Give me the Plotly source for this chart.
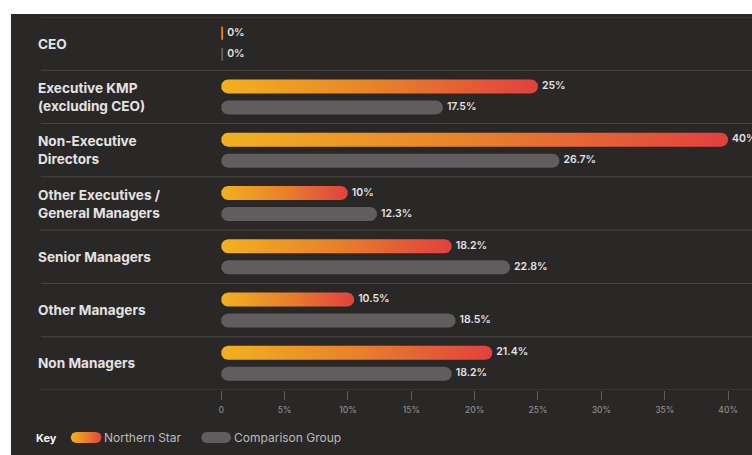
import numpy as np
import plotly.graph_objects as go

# ---------------- data ----------------
categories = ["CEO", "Executive KMP<br>(excluding CEO)", "Non-Executive<br>Directors",
              "Other Executives /<br>General Managers", "Senior Managers",
              "Other Managers", "Non Managers"]
northern_star = [0, 25, 40, 10, 18.2, 10.5, 21.4]
comparison = [0, 17.5, 26.7, 12.3, 22.8, 18.5, 18.2]
tick_vals = [0, 5, 10, 15, 20, 25, 30, 35, 40]
tick_text = ["0", "5%", "10%", "15%", "20%", "25%", "30%", "35%", "40%"]
series_names = ["Northern Star", "Comparison Group"]

# ---------------- style / layout constants ----------------
W, H = 752, 455
X0_PX, X40_PX = 219, 728
PX_PER_UNIT = (X40_PX - X0_PX) / 40.0
TOP_PX, BOT_PX = 17, 390
N = len(categories)
PX_PER_ROW = (BOT_PX - TOP_PX) / N
XMAX = (W - X0_PX) / PX_PER_UNIT

BG = "#2a2727"
SEP = "#484545"
GRAY_BAR = "#615d5e"
GRAD = [[0, "#F2B11F"], [0.5, "#E8812A"], [1, "#E2403F"]]
TXT = "#e4e2e2"
FONT = "Inter"

BAR_OFF_PX = 10.5
BAR_HALF_PX = 7.0


def pill(v, c):
    """closed polygon for a rounded bar of value v centred on row c"""
    hy = BAR_HALF_PX / PX_PER_ROW
    wpx = v * PX_PER_UNIT
    if wpx < 2 * BAR_HALF_PX:
        w = 2.0 / PX_PER_UNIT
        hy2 = 6.5 / PX_PER_ROW
        return [0, w, w, 0, 0], [c - hy2, c - hy2, c + hy2, c + hy2, c - hy2]
    rx = BAR_HALF_PX / PX_PER_UNIT
    t1 = np.linspace(-np.pi / 2, np.pi / 2, 20)
    t2 = np.linspace(np.pi / 2, 3 * np.pi / 2, 20)
    xs = list(v - rx + rx * np.cos(t1)) + list(rx + rx * np.cos(t2))
    ys = list(c + hy * np.sin(t1)) + list(c + hy * np.sin(t2))
    xs.append(xs[0]); ys.append(ys[0])
    return xs, ys


fig = go.Figure()

for i, (a, b) in enumerate(zip(northern_star, comparison)):
    ca = i - BAR_OFF_PX / PX_PER_ROW
    cb = i + BAR_OFF_PX / PX_PER_ROW
    xa, ya = pill(a, ca)
    if a == 0:
        fig.add_trace(go.Scatter(x=xa, y=ya, fill="toself", mode="lines",
                                 fillcolor="#E8812A", line=dict(width=0),
                                 hoverinfo="skip", showlegend=False))
    else:
        fig.add_trace(go.Scatter(x=xa, y=ya, fill="toself", mode="lines",
                                 fillgradient=dict(type="horizontal", colorscale=GRAD),
                                 line=dict(width=0), hoverinfo="skip", showlegend=False))
    xb, yb = pill(b, cb)
    fig.add_trace(go.Scatter(x=xb, y=yb, fill="toself", mode="lines",
                             fillcolor=GRAY_BAR, line=dict(width=0),
                             hoverinfo="skip", showlegend=False))

# value labels
pad = 4.0 / PX_PER_UNIT
ys_a = [i - BAR_OFF_PX / PX_PER_ROW for i in range(N)]
ys_b = [i + BAR_OFF_PX / PX_PER_ROW for i in range(N)]
for vals, ys in ((northern_star, ys_a), (comparison, ys_b)):
    fig.add_trace(go.Scatter(
        x=[max(v, 0.16) + pad for v in vals], y=ys, mode="text",
        text=[f"{v:g}%" for v in vals], textposition="middle right",
        textfont=dict(family=FONT, size=10.5, color=TXT, weight=600),
        cliponaxis=False, hoverinfo="skip", showlegend=False))

# legend swatches on pixel overlay axes
LEG_Y = 437.5
def leg_pill(x0, x1, yc, h=5.5):
    t1 = np.linspace(-np.pi / 2, np.pi / 2, 16)
    t2 = np.linspace(np.pi / 2, 3 * np.pi / 2, 16)
    xs = list(x1 - h + h * np.cos(t1)) + list(x0 + h + h * np.cos(t2))
    ys = list(yc + h * np.sin(t1)) + list(yc + h * np.sin(t2))
    xs.append(xs[0]); ys.append(ys[0])
    return xs, ys

lx, ly = leg_pill(68, 99, LEG_Y)
fig.add_trace(go.Scatter(x=lx, y=ly, xaxis="x2", yaxis="y2", fill="toself", mode="lines",
                         fillgradient=dict(type="horizontal", colorscale=GRAD),
                         line=dict(width=0), hoverinfo="skip", showlegend=False))
lx, ly = leg_pill(199, 229, LEG_Y)
fig.add_trace(go.Scatter(x=lx, y=ly, xaxis="x2", yaxis="y2", fill="toself", mode="lines",
                         fillcolor=GRAY_BAR, line=dict(width=0),
                         hoverinfo="skip", showlegend=False))

shapes = [dict(type="rect", xref="paper", yref="paper", x0=8 / W, x1=1, y0=0, y1=1 - 14 / H,
               fillcolor=BG, line=dict(width=0), layer="below")]
for k in range(N + 1):
    shapes.append(dict(type="line", xref="x2", yref="y", x0=38, x1=W, y0=k - 0.5, y1=k - 0.5,
                       line=dict(color=SEP, width=1), layer="below"))

annotations = []
for i, cat in enumerate(categories):
    annotations.append(dict(xref="x2", yref="y", x=33, y=i, text=cat, showarrow=False,
                            xanchor="left", yanchor="middle", align="left",
                            font=dict(family=FONT, size=13.6, color=TXT, weight=700)))
annotations += [
    dict(xref="x2", yref="y2", x=31, y=LEG_Y, text="Key", showarrow=False, xanchor="left",
         yanchor="middle", font=dict(family=FONT, size=11, color="#f2f2f2", weight=700)),
    dict(xref="x2", yref="y2", x=99, y=LEG_Y, text=series_names[0], showarrow=False,
         xanchor="left", yanchor="middle", font=dict(family=FONT, size=12, color="#bdbaba")),
    dict(xref="x2", yref="y2", x=230, y=LEG_Y, text=series_names[1], showarrow=False,
         xanchor="left", yanchor="middle", font=dict(family=FONT, size=12, color="#bdbaba")),
]

fig.update_layout(
    width=W, height=H, margin=dict(l=0, r=0, t=0, b=0),
    paper_bgcolor="white", plot_bgcolor="rgba(0,0,0,0)",
    showlegend=False, shapes=shapes, annotations=annotations,
    xaxis=dict(domain=[X0_PX / W, 1], range=[0, XMAX], showgrid=False, zeroline=False,
               showline=False, tickmode="array", tickvals=tick_vals, ticktext=tick_text,
               ticks="outside", ticklen=9, tickcolor="#5f5c5c", tickwidth=1,
               ticklabelstandoff=3,
               tickfont=dict(family=FONT, size=8.5, color="#8f8c8c", weight=500),
               fixedrange=True),
    yaxis=dict(domain=[(H - BOT_PX) / H, (H - TOP_PX) / H], range=[N - 0.5, -0.5],
               showgrid=False, zeroline=False, showticklabels=False, showline=False,
               fixedrange=True),
    xaxis2=dict(domain=[0, 1], range=[0, W], visible=False, anchor="y2", fixedrange=True),
    yaxis2=dict(domain=[0, 1], range=[H, 0], visible=False, anchor="x2", fixedrange=True),
)

fig.write_html("out.html")
